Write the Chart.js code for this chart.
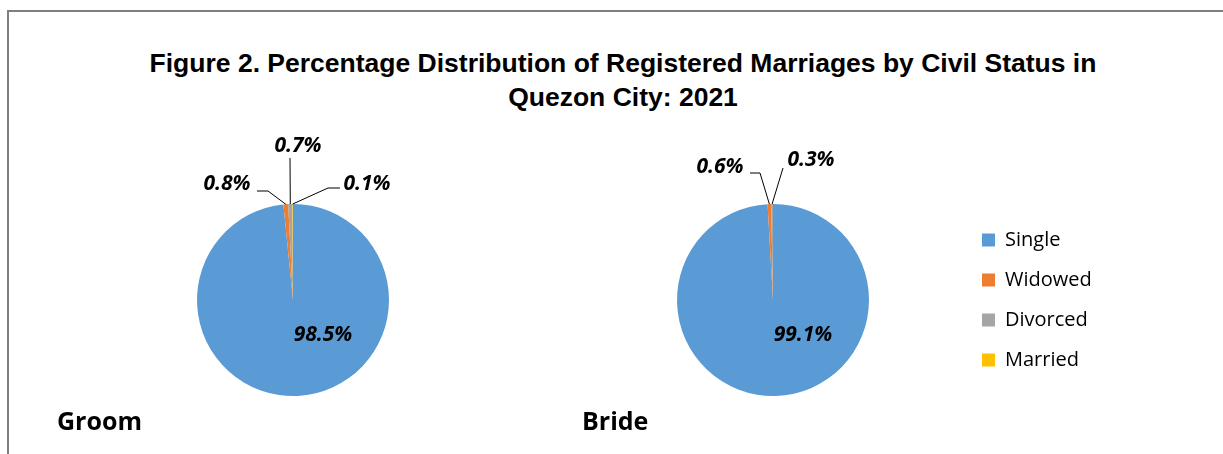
<!DOCTYPE html>
<html>
<head>
<meta charset="utf-8">
<script src="https://cdn.jsdelivr.net/npm/chart.js@4.4.1/dist/chart.umd.min.js"></script>
<style>
  html, body { margin: 0; padding: 0; background: #fff; }
  #page { position: relative; width: 1223px; height: 454px; overflow: hidden; }
  #frame { position: absolute; left: 7px; top: 10px; right: -4px; bottom: -4px;
           border-left: 2px solid #7f7f7f; border-top: 2px solid #7f7f7f; }
  #title { position: absolute; left: 0; width: 1246px; top: 46px; text-align: center;
           font: bold 26.5px "Liberation Sans", Arial, sans-serif; line-height: 34px; color: #000; }
  .who { position: absolute; top: 403px; font: bold 25px "Open Sans", sans-serif; color: #000; }
  canvas { position: absolute; }
</style>
</head>
<body>
<div id="page">
  <div id="frame"></div>
  <div id="title">Figure 2. Percentage Distribution of Registered Marriages by Civil Status in<br>Quezon City: 2021</div>
  <canvas id="groom-chart" width="386" height="320" style="left:100px; top:120px;"></canvas>
  <canvas id="bride-chart" width="643" height="320" style="left:580px; top:120px;"></canvas>
  <div class="who" style="left:57px;">Groom</div>
  <div class="who" style="left:582px;">Bride</div>
</div>
<script>
// Civil status shares (%) by party
const statuses = ['Single', 'Widowed', 'Divorced', 'Married'];
const groomShare = [98.5, 0.8, 0.7, 0.1];
const brideShare = [99.1, 0.6, 0.3, 0.0];
const sliceColors = ['#5B9BD5', '#ED7D31', '#A5A5A5', '#FFC000'];

// label placement relative to the pie centre (inside) or leader geometry (outside)
const groomSpots = [
    { inside: true, dx: 30, dy: 35 },
    { dx: -66, dy: -116, elbow: [-25, -109], end: [-36, -109] },
    { dx: 5, dy: -154, elbow: [-3, -142], end: [-3, -142] },
    { dx: 74, dy: -116, elbow: [35, -112], end: [47, -112] }
];
const brideSpots = [
    { inside: true, dx: 30, dy: 35 },
    { dx: -53, dy: -133, elbow: [-13, -127], end: [-23, -127] },
    { dx: 38, dy: -140, elbow: [10, -132], end: [10, -132] },
    null
];

const sliceLabels = {
    id: 'sliceLabels',
    afterDatasetsDraw(chart, args, opts) {
        const meta = chart.getDatasetMeta(0);
        const values = chart.data.datasets[0].data;
        const ctx = chart.ctx;
        ctx.save();
        ctx.font = 'italic bold 21px "Open Sans", sans-serif';
        ctx.fillStyle = '#000';
        ctx.strokeStyle = '#000';
        ctx.lineWidth = 1;
        ctx.textAlign = 'center';
        ctx.textBaseline = 'middle';
        meta.data.forEach((arc, i) => {
            const spot = opts.spots[i];
            if (!spot || !values[i]) return;
            const p = arc.getProps(['x', 'y', 'startAngle', 'endAngle', 'outerRadius'], true);
            const text = values[i].toFixed(1) + '%';
            if (!spot.inside) {
                const mid = (p.startAngle + p.endAngle) / 2;
                ctx.beginPath();
                ctx.moveTo(p.x + Math.cos(mid) * p.outerRadius, p.y + Math.sin(mid) * p.outerRadius);
                ctx.lineTo(p.x + spot.elbow[0], p.y + spot.elbow[1]);
                ctx.lineTo(p.x + spot.end[0], p.y + spot.end[1]);
                ctx.stroke();
            }
            ctx.fillText(text, p.x + spot.dx, p.y + spot.dy);
        });
        ctx.restore();
    }
};

// fixed legend column width so the pie keeps its place
const legendWidth = {
    id: 'legendWidth',
    beforeInit(chart, args, opts) {
        if (!chart.legend) return;
        const fit = chart.legend.fit;
        chart.legend.fit = function () {
            fit.call(this);
            if (this.options.display) this.width = opts.width;
        };
    }
};

function pieConfig(values, spots, showLegend, padding) {
    return {
        type: 'pie',
        data: {
            labels: statuses,
            datasets: [{
                data: values,
                backgroundColor: sliceColors,
                borderWidth: 0,
                hoverOffset: 0,
                offset: 0
            }]
        },
        options: {
            responsive: false,
            devicePixelRatio: 1,
            animation: false,
            layout: { padding: padding },
            plugins: {
                legend: {
                    display: showLegend,
                    position: 'right',
                    labels: {
                        boxWidth: 13,
                        boxHeight: 13,
                        padding: 20,
                        color: '#000',
                        font: { family: '"Open Sans", sans-serif', size: 20 }
                    }
                },
                tooltip: { enabled: false },
                sliceLabels: { spots: spots },
                legendWidth: { width: 261 }
            }
        },
        plugins: [sliceLabels, legendWidth]
    };
}

new Chart(document.getElementById('groom-chart'),
    pieConfig(groomShare, groomSpots, false, { left: 97, right: 97, top: 84, bottom: 44 }));
new Chart(document.getElementById('bride-chart'),
    pieConfig(brideShare, brideSpots, true, { left: 4, right: 0, top: 84, bottom: 44 }));
</script>
</body>
</html>
